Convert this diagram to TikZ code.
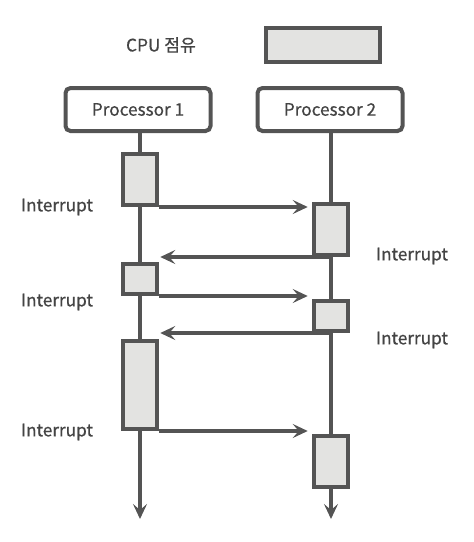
\documentclass[tikz,border=0pt]{standalone}
\usepackage{fontspec}
\setmainfont{Noto Sans CJK KR}[FakeBold=0.6]
\usetikzlibrary{arrows.meta}
\definecolor{ln}{HTML}{545454}
\definecolor{bx}{HTML}{E3E3E1}
\definecolor{tx}{HTML}{444444}
\begin{document}
\begin{tikzpicture}[x=1pt,y=-1pt,
  busy/.style={draw=ln,fill=bx,line width=4pt,minimum width=34.5pt,inner sep=0pt},
  proc/.style={draw=ln,line width=4pt,rounded corners=5pt,minimum width=145pt,minimum height=43pt,font=\fontsize{17.2}{19}\selectfont,text=tx},
  lbl/.style={font=\fontsize{17.2}{19}\selectfont,text=tx},
  life/.style={draw=ln,line width=3.8pt},
  msg/.style={draw=ln,line width=3.5pt,-{Stealth[length=15pt,width=14pt,inset=6pt]}}]
\useasboundingbox (0,0) rectangle (474,542);
\node[lbl] (cpu) at (161,45) {CPU 점유};
\node[busy,minimum width=114pt,minimum height=34pt] (key) at (323,45) {};
\node[proc] (P1) at (138,109.5) {Processor 1};
\node[proc] (P2) at (330,109.5) {Processor 2};
\node[busy,minimum height=51pt] (p1a) at (140,179.5) {};
\node[busy,minimum height=30pt] (p1b) at (140,279) {};
\node[busy,minimum height=88pt] (p1c) at (140,385) {};
\node[busy,minimum height=51pt] (p2a) at (331,229.5) {};
\node[busy,minimum height=30pt] (p2b) at (331,316) {};
\node[busy,minimum height=51pt] (p2c) at (331,461.5) {};
\coordinate (e1) at (140,519);
\coordinate (e2) at (331,519);
\draw[life] (P1.south -| p1a.north) -- (p1a.north);
\draw[life] (p1a.south) -- (p1b.north);
\draw[life] (p1b.south) -- (p1c.north);
\draw[life,-{Stealth[length=15pt,width=14pt,inset=6pt]}] (p1c.south) -- (e1);
\draw[life] (P2.south -| p2a.north) -- (p2a.north);
\draw[life] (p2a.south) -- (p2b.north);
\draw[life] (p2b.south) -- (p2c.north);
\draw[life,-{Stealth[length=15pt,width=14pt,inset=6pt]}] (p2c.south) -- (e2);
\draw[msg,shorten >=4pt] (p1a.south east) -- (p1a.south east -| p2a.west);
\draw[msg,shorten >=1pt] (p2a.south) -- (p2a.south -| p1b.east);
\draw[msg,shorten >=4pt] (p1b.south east) -- (p1b.south east -| p2b.west);
\draw[msg,shorten >=1pt] (p2b.south) -- (p2b.south -| p1c.east);
\draw[msg,shorten >=4pt] (p1c.south east) -- (p1c.south east -| p2c.west);
\node[lbl] (i1) at (57,207) {Interrupt};
\node[lbl] (i2) at (412,256) {Interrupt};
\node[lbl] (i3) at (57,302) {Interrupt};
\node[lbl] (i4) at (412,340) {Interrupt};
\node[lbl] (i5) at (57,432) {Interrupt};
\end{tikzpicture}
\end{document}
